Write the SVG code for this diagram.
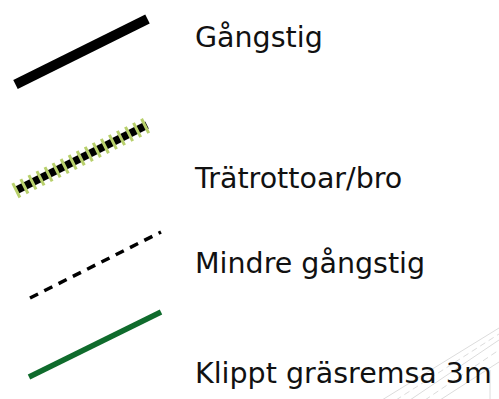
<svg xmlns="http://www.w3.org/2000/svg" width="499" height="399" viewBox="0 0 499 399">
<style>
.lbl{font-family:"DejaVu Sans",sans-serif;font-size:28.5px;fill:#111}
.bg{stroke:#dcdcdc;stroke-width:1;fill:none}
</style>
<rect width="499" height="399" fill="#fff"/>
<g id="background">
<line class="bg" x1="382" y1="400" x2="499" y2="328"/>
<line class="bg" x1="410" y1="400" x2="499" y2="340"/>
<line class="bg" x1="396" y1="400" x2="499" y2="334" stroke-dasharray="6 4"/>
<line class="bg" x1="440" y1="400" x2="499" y2="362"/>
<line class="bg" x1="425" y1="400" x2="499" y2="350" stroke-dasharray="6 4"/>
<line class="bg" x1="490" y1="370" x2="490" y2="399"/>
</g>
<g id="gangstig">
<line x1="15.5" y1="84.5" x2="147.5" y2="19" stroke="#000" stroke-width="10"/>
<text class="lbl" x="195" y="47">Gångstig</text>
</g>
<g id="tratrottoar">
<line x1="17" y1="190" x2="147" y2="125" stroke="#000" stroke-width="8"/>
<line x1="15" y1="191" x2="149" y2="124" stroke="#b8d06c" stroke-width="16" stroke-dasharray="3 6"/>
<text class="lbl" x="195" y="188">Trätrottoar/bro</text>
</g>
<g id="mindre">
<line x1="30" y1="298" x2="161" y2="232" stroke="#000" stroke-width="3.5" stroke-dasharray="9 7"/>
<text class="lbl" x="195" y="273">Mindre gångstig</text>
</g>
<g id="klippt">
<line x1="29" y1="377" x2="161" y2="312" stroke="#0f6b2c" stroke-width="5.5"/>
<text class="lbl" x="195" y="383">Klippt gräsremsa 3m</text>
</g>
</svg>
